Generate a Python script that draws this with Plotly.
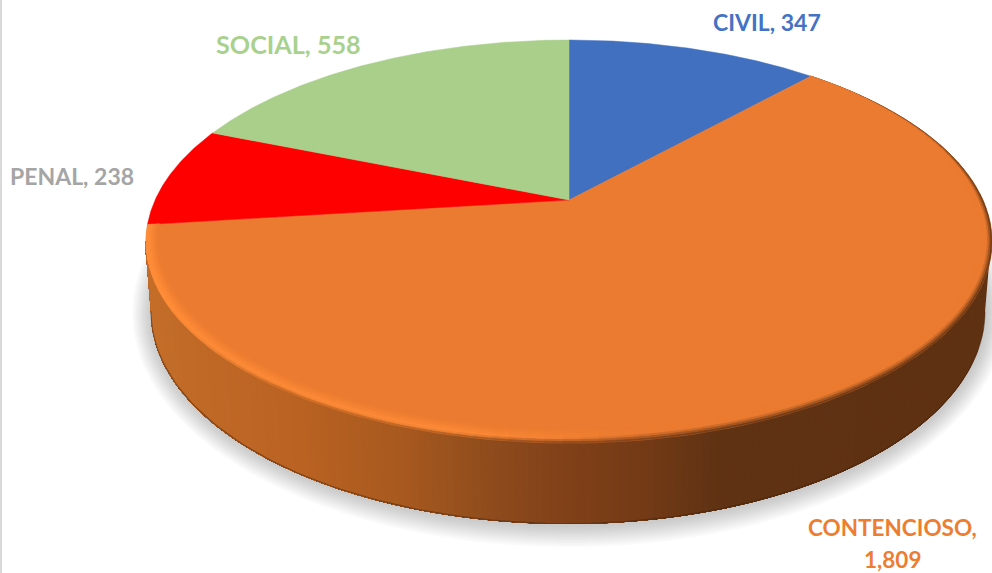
import numpy as np
import plotly.graph_objects as go

# ---- data ----
categories = ["CIVIL", "CONTENCIOSO", "PENAL", "SOCIAL"]
values = [347, 1809, 238, 558]
slice_colors = ["#4170C0", "#EB7B30", "#FF0000", "#A9CF8A"]
label_colors = ["#4472C4", "#ED7D31", "#A5A5A5", "#A9D18E"]

W, H = 992, 573

# ---- projection of the unit disc onto the page (tilted pie) ----
APEX_X, APEX_Y = 569.0, 200.0
TOP_Y, FRONT_Y = 40.0, 443.0
RX = 423.0
CX = 568.0
# vertical homography Y = (A v + B) / (1 + c v)
B = APEX_Y
c = (FRONT_Y + TOP_Y - 2 * B) / (FRONT_Y - TOP_Y)
A = TOP_Y * (1 + c) - B
K = RX * np.sqrt(1 - c * c)


def project(theta, r=1.0):
    """theta clockwise from 12 o'clock, radians; r in disc radii."""
    u = r * np.sin(theta)
    v = r * np.cos(theta)
    d = 1 + c * v
    return APEX_X + K * u / d, (A * v + B) / d


# ---- wall: upper and lower rim ellipses ----
RIM_CY, RIM_RY = 241.0, 201.5
BASE_CX, BASE_CY, BASE_RX, BASE_RY = 568.0, 312.0, 417.0, 212.0

WALL_X = [140, 200, 300, 400, 500, 570, 650, 720, 1000]
WALL_R = [0xC4, 0xC0, 0xB9, 0xA8, 0x8C, 0x80, 0x72, 0x5F, 0x5E]
WALL_G = [0x6E, 0x69, 0x62, 0x59, 0x4A, 0x40, 0x3A, 0x32, 0x31]
WALL_B = [0x2A, 0x27, 0x22, 0x1F, 0x1C, 0x18, 0x16, 0x13, 0x12]


def wall_rgb(x):
    return np.array([np.interp(x, WALL_X, WALL_R), np.interp(x, WALL_X, WALL_G), np.interp(x, WALL_X, WALL_B)])


def css(rgb):
    r, g, b = [int(round(float(q))) for q in rgb]
    return f"rgb({r},{g},{b})"


def poly(fig, xs, ys, fill, lw=0.0):
    fig.add_trace(go.Scatter(
        x=list(xs) + [xs[0]], y=list(ys) + [ys[0]], mode="lines", fill="toself",
        fillcolor=fill, line=dict(color=fill, width=lw),
        hoverinfo="skip", showlegend=False))


fig = go.Figure()

# soft shadow below the pie
phi = np.linspace(0, 2 * np.pi, 180)
for grow in np.linspace(22, 2, 11):
    sx = BASE_CX + 1 + (BASE_RX + grow * 0.9) * np.cos(phi)
    sy = BASE_CY + 1 + (BASE_RY + grow) * np.sin(phi)
    poly(fig, sx, sy, "rgba(60,60,60,0.028)")

# wall: painted from right to left, each band reaching all the way to the left end
x_cuts = np.arange(CX + RX, CX - RX, -7.0)
for xc in x_cuts:
    frac_t = np.clip((xc - CX) / RX, -1, 1)
    p_start = np.arccos(frac_t)
    arc = np.linspace(p_start, np.pi, 140)
    xt = CX + RX * np.cos(arc)
    yt = RIM_CY + RIM_RY * np.sin(arc)
    xb = BASE_CX + BASE_RX * np.cos(arc[::-1])
    yb = BASE_CY + BASE_RY * np.sin(arc[::-1])
    poly(fig, np.r_[xt, xb], np.r_[yt, yb], css(wall_rgb(xc - 3.5)))
# thin darker line along the foot of the wall
edges = np.linspace(0, np.pi, 121)
fx = BASE_CX + BASE_RX * np.cos(edges)
fy = BASE_CY + BASE_RY * np.sin(edges) - 0.5
fig.add_trace(go.Scatter(x=fx, y=fy, mode="lines", line=dict(color="rgba(70,35,10,0.5)", width=1.1),
                         hoverinfo="skip", showlegend=False))

# slices, from the values
fractions = np.array(values, dtype=float) / sum(values)
stops = np.r_[0, np.cumsum(fractions)] * 2 * np.pi
for i, name in enumerate(categories):
    th = np.linspace(stops[i], stops[i + 1], 160)
    ax, ay = project(th)
    fig.add_trace(go.Scatter(
        x=np.r_[APEX_X, ax, APEX_X], y=np.r_[APEX_Y, ay, APEX_Y], mode="lines", fill="toself",
        fillcolor=slice_colors[i], line=dict(color=slice_colors[i], width=0.5),
        name=name, hoverinfo="name", showlegend=False))

# bevel on the large slice's rim
base = np.array([0xEB, 0x7B, 0x30], dtype=float)
bright = np.array([0xFF, 0x8C, 0x38], dtype=float)
big = categories.index("CONTENCIOSO")
th_edges = np.linspace(stops[big], stops[big + 1], 111)
RINGS = 7
for t0, t1 in zip(th_edges[:-1], th_edges[1:]):
    tm = (t0 + t1) / 2
    xm = project(tm)[0]
    w = 0.027 * np.sin(tm) ** 2 + 0.048 * np.cos(tm) ** 2
    if tm < np.pi / 2:
        w *= max(0.12, (tm - stops[big]) / (np.pi / 2 - stops[big]))
    # rim edge: bright at the far left, wall colour further along
    m = np.clip((xm - 165) / 110, 0, 1)
    edge = bright * (1 - m) + wall_rgb(xm) * m
    # highlight fades out on the dark side
    g = np.clip((xm - 450) / 190, 0, 1)
    hi = bright * (1 - g) + base * g
    for k in range(RINGS):
        s0, s1 = k / RINGS, (k + 1) / RINGS
        sm = (s0 + s1) / 2
        knee = 0.25 + 0.2 * g
        if sm < knee:
            q = sm / knee
            col = edge * (1 - q) + hi * q
        else:
            q = (sm - knee) / (1 - knee)
            col = hi * (1 - q) + base * q
        r0, r1 = 1 - w * s0, 1 - w * s1
        x0, y0 = project(np.array([t0, t1]), r0)
        x1, y1 = project(np.array([t1, t0]), r1)
        poly(fig, np.r_[x0, x1], np.r_[y0, y1], css(col), lw=0.5)

# labels
label_pos = {"CIVIL": (767, 22), "CONTENCIOSO": (892, 527), "PENAL": (72, 176), "SOCIAL": (288, 44)}
label_size = {"CIVIL": 23, "CONTENCIOSO": 22.5, "PENAL": 23, "SOCIAL": 25.2}
FONT = "Lato, Carlito, Calibri, sans-serif"
for name, val, col in zip(categories, values, label_colors):
    x, y = label_pos[name]
    if name == "CONTENCIOSO":
        parts = [f"{name},", f"{val:,}"]
    else:
        parts = [f"{name}, {val:,}"]
    for j, part in enumerate(parts):
        fig.add_annotation(x=x, y=y + 32 * j, text=f"<b>{part}</b>", showarrow=False,
                           xanchor="center", yanchor="middle",
                           font=dict(family=FONT, size=label_size[name], color=col))

# thin grey rule on the far left of the picture
fig.add_shape(type="rect", xref="paper", yref="paper", x0=0, x1=2 / W, y0=0, y1=1,
              fillcolor="#D9D9D9", line_width=0, layer="above")

fig.update_layout(
    width=W, height=H, margin=dict(l=0, r=0, t=0, b=0),
    paper_bgcolor="white", plot_bgcolor="white", showlegend=False,
    xaxis=dict(range=[0, W], visible=False, fixedrange=True),
    yaxis=dict(range=[H, 0], visible=False, fixedrange=True),
)
fig.write_html("out.html", config=dict(displayModeBar=False),
               post_script="document.body.style.margin='0';document.body.style.overflow='hidden';")
